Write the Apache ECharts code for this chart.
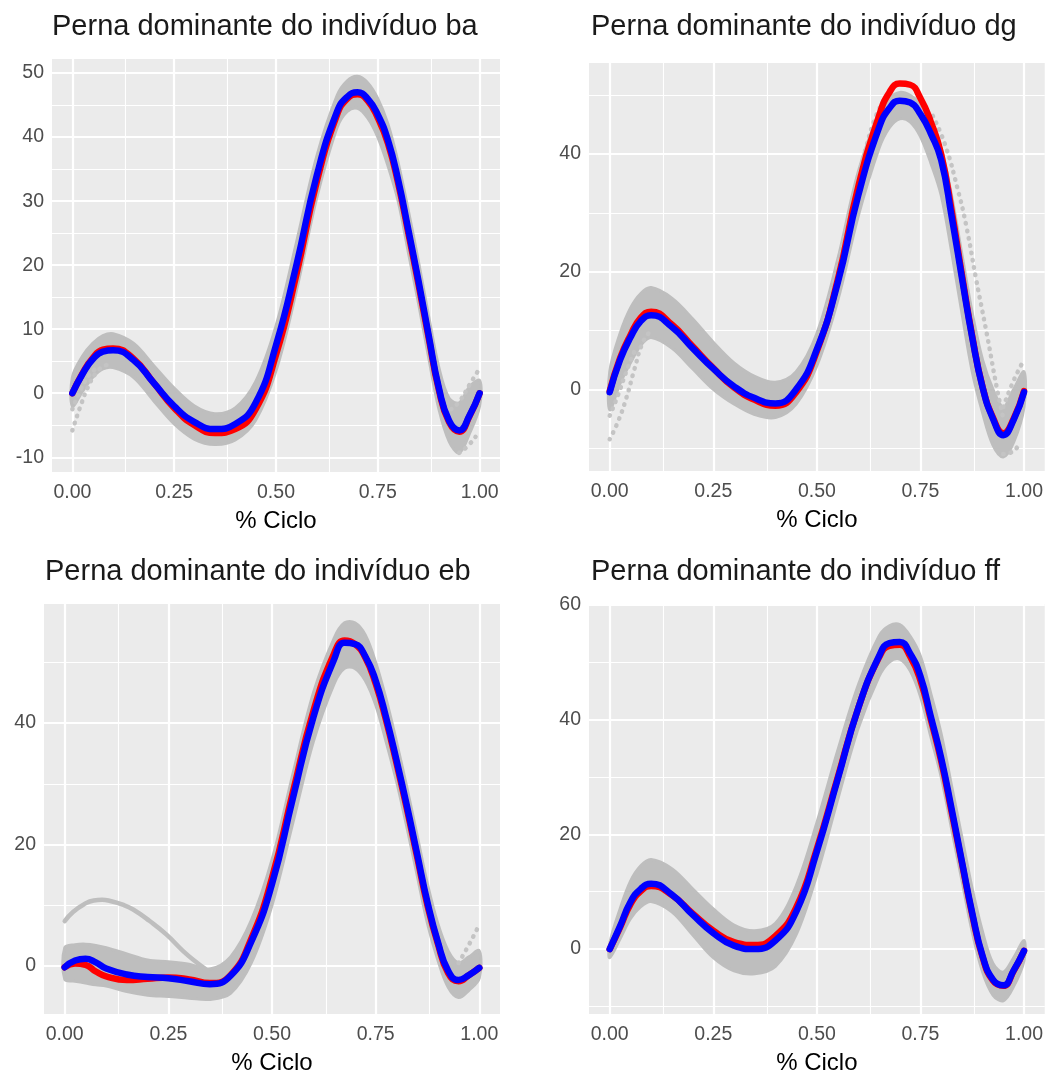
<!DOCTYPE html>
<html>
<head>
<meta charset="utf-8">
<script src="https://cdn.jsdelivr.net/npm/echarts@6/dist/echarts.min.js"></script>
<style>
  html, body { margin: 0; padding: 0; background: #fff; }
  #chart { width: 1046px; height: 1076px; }
</style>
</head>
<body>
<div id="chart"></div>
<script>
// % ciclo sample points shared by the mean curves and the gray envelopes
const X = [0, 0.025, 0.05, 0.075, 0.1, 0.15, 0.2, 0.25, 0.3, 0.35, 0.4, 0.45, 0.5, 0.55, 0.6, 0.65, 0.675, 0.7, 0.725, 0.75, 0.775, 0.8, 0.825, 0.85, 0.875, 0.9, 0.925, 0.95, 0.975, 1];

const xTicks = [0, 0.25, 0.5, 0.75, 1];
const xMinor = [0.125, 0.375, 0.625, 0.875];

// individuo ba
const baBlue = [0, 3.0, 5.3, 6.5, 6.7, 5.2, 1.6, -2.0, -4.5, -5.6, -4.8, -1.5, 7.5, 20, 34, 44, 46.3, 47, 46, 43.5, 39.5, 33.3, 25.5, 17.5, 9, 0.8, -4.3, -5.8, -3.5, 0];
const baRed = [0, 3.1, 5.5, 6.8, 7.0, 5.4, 1.6, -2.3, -5.0, -6.2, -5.6, -2.5, 6.0, 18.5, 33, 43.5, 46, 46.7, 45.7, 43, 39, 32.8, 25, 17, 8.6, 0.5, -4.5, -6.0, -3.6, 0];
const baHi = [2.5, 5.8, 7.8, 9.0, 9.3, 7.8, 4.3, 0.8, -2.0, -3.2, -2.3, 1.8, 10.5, 23.5, 37, 46.5, 48.8, 49.5, 48.5, 46, 42, 36, 28.5, 20.5, 12, 4, -0.8, -1.5, 1.0, 2.0];
const baLo = [-2, 0.3, 2.5, 3.8, 4.0, 2.5, -1.2, -4.8, -7.2, -8.0, -7.3, -4.2, 3.5, 16, 30.5, 41.5, 44, 44.5, 43, 40, 35.5, 30, 22, 14, 5.5, -2.5, -7.5, -9.3, -6.3, -2];
const baDots = [
  [[0, -5.8], [0.02, -2.0], [0.04, 1.2], [0.06, 3.3], [0.08, 4.3], [0.1, 4.6]],
  [[0, -2.5], [0.02, 0.5], [0.04, 2.7], [0.06, 4.0]],
  [[0.93, -2.5], [0.95, -1.3], [0.975, 1.3], [1, 3.9]],
  [[0.95, -9.3], [0.97, -8.3], [0.99, -6.8]]
];
const baYTicks = [-10, 0, 10, 20, 30, 40, 50];
const baYMinor = [-5, 5, 15, 25, 35, 45];

// individuo dg
const dgBlue = [-0.5, 5, 8.8, 11.6, 12.6, 10.6, 7.0, 3.5, 0.5, -1.5, -2.4, 0, 6.8, 18, 33, 44.5, 47.8, 49.1, 48.8, 46.8, 43.5, 39, 29.5, 19, 8.8, 0.3, -5, -7.8, -5.2, -0.5];
const dgRed = [-0.3, 5.3, 9.2, 12.2, 13.2, 11.0, 7.3, 3.6, 0.3, -1.8, -2.8, -0.5, 6.5, 18.5, 34.5, 46.5, 50.5, 52, 51.8, 49.5, 45.5, 40, 30.5, 19.5, 9, 0.4, -4.8, -7.5, -5, -0.3];
const dgHi = [3, 9.5, 13.8, 16.3, 17.3, 15.5, 12, 8, 4.5, 2.2, 1.2, 3, 9.5, 22, 37, 47, 49.5, 50.5, 50, 48.5, 45.5, 41, 33, 23, 13, 5, 0, -3, 0, 3];
const dgLo = [-3.5, 1, 4.5, 7.5, 8.8, 7, 3.5, 0, -2.5, -4.3, -4.8, -2.5, 4, 15, 29.5, 41, 44.5, 46, 45.5, 43, 38.5, 33, 23.5, 13, 3, -4, -9.5, -11.5, -9, -3];
const dgDots = [
  [[0, -8.5], [0.02, -5.5], [0.04, -1.5], [0.06, 3.5], [0.08, 8], [0.1, 10]],
  [[0, -4.5], [0.02, -1], [0.04, 3], [0.06, 6.5]],
  [[0.52, 12], [0.54, 18], [0.56, 24], [0.58, 30], [0.6, 36], [0.62, 41.5], [0.64, 46], [0.66, 49]],
  [[0.78, 46.5], [0.81, 41.5], [0.84, 34], [0.86, 28], [0.885, 18.5], [0.91, 9.5], [0.935, 0], [0.95, -5]],
  [[0.95, -3], [0.975, 1.5], [1, 5]],
  [[0.95, -11], [0.975, -10.5], [0.99, -9]]
];
const dgYTicks = [0, 20, 40];
const dgYMinor = [-10, 10, 30, 50];

// individuo eb
const ebBlue = [-0.2, 0.9, 1.2, 0.6, -0.4, -1.4, -1.8, -2.0, -2.5, -3.0, -1.6, 4.0, 13.5, 27.5, 41, 50.5, 53.2, 53, 51, 47, 41, 34, 26.5, 18.5, 10.5, 4, -0.8, -2.3, -1.5, -0.3];
const ebRed = [-0.2, 0.4, 0.2, -0.9, -1.7, -2.3, -2.1, -1.9, -2.2, -2.8, -1.5, 4.5, 14.5, 28.5, 42, 51.5, 53.6, 53, 50.8, 46.5, 40.5, 33.5, 26, 18, 10, 3.7, -1.2, -2.5, -1.5, -0.3];
const ebHi = [3, 3.5, 3.6, 3.4, 3.0, 2.0, 1.0, 0.7, 0.3, -0.5, 1.5, 7.5, 17.5, 31.5, 45, 54, 56.5, 56.5, 54.5, 50, 44, 37, 29.5, 21.5, 13.5, 7, 2.5, 0.5, 1.5, 2.5];
const ebLo = [-2.2, -2.5, -2.8, -3.1, -3.3, -4.2, -4.8, -5.0, -5.3, -5.5, -4.5, 0.5, 10, 23.5, 37, 46.5, 49, 49, 47, 43, 37, 30.5, 23, 15, 7, 1, -3.5, -5.2, -4, -2];
const ebLoose = [[0, 7.4], [0.02, 8.9], [0.045, 10.1], [0.07, 10.8], [0.09, 10.9], [0.11, 10.7], [0.14, 10.1], [0.165, 9.3], [0.205, 7.4], [0.245, 5.2], [0.285, 2.5], [0.32, 0.5], [0.34, -0.5]];
const ebDots = [
  [[0.95, 0.5], [0.975, 3.5], [1, 6.8]]
];
const ebYTicks = [0, 20, 40];
const ebYMinor = [10, 30, 50];

// individuo ff
const ffBlue = [0, 4, 8.2, 10.5, 11.4, 9.5, 6, 2.8, 0.6, 0, 1.5, 6.5, 17, 29.5, 42, 51, 53.3, 53.5, 51.5, 47.5, 40.5, 33.3, 24.5, 15.3, 6.3, -1.2, -5.3, -6.3, -3.7, -0.3];
const ffRed = [0, 3.8, 7.8, 10.1, 11.0, 9.4, 6.2, 3.2, 1.2, 0.7, 2.3, 7.2, 17.5, 29.8, 42, 50.8, 52.8, 53, 51, 46.8, 40, 32.8, 24, 15, 6, -1.4, -5.5, -6.4, -3.8, -0.3];
const ffHi = [1, 7, 11.8, 14.5, 15.6, 14, 10.5, 7, 4.2, 3.2, 4.5, 11, 22, 34.5, 46, 54.5, 56.3, 56.5, 54.5, 51, 44.5, 37.5, 28.5, 19.5, 10.5, 3, -2.5, -4, -1.5, 1.5];
const ffLo = [-1.5, 1.8, 5.3, 7.4, 8.3, 6.5, 2.5, -1.5, -3.8, -4.3, -3, 2.5, 13, 26, 38.5, 47.5, 50, 50.5, 48.5, 44, 37, 30, 21, 12, 3, -4, -8, -9, -6.5, -2];
const ffDots = [];
const ffYTicks = [0, 20, 40, 60];
const ffYMinor = [-10, 10, 30, 50];

const panels = [
  { title: 'Perna dominante do indivíduo ba', blue: baBlue, red: baRed, hi: baHi, lo: baLo, dots: baDots, loose: [], yTicks: baYTicks, yMinor: baYMinor, yMin: -12.3, yMax: 52.2 },
  { title: 'Perna dominante do indivíduo dg', blue: dgBlue, red: dgRed, hi: dgHi, lo: dgLo, dots: dgDots, loose: [], yTicks: dgYTicks, yMinor: dgYMinor, yMin: -13.9, yMax: 55.5 },
  { title: 'Perna dominante do indivíduo eb', blue: ebBlue, red: ebRed, hi: ebHi, lo: ebLo, dots: ebDots, loose: [ebLoose], yTicks: ebYTicks, yMinor: ebYMinor, yMin: -7.9, yMax: 59.6 },
  { title: 'Perna dominante do indivíduo ff', blue: ffBlue, red: ffRed, hi: ffHi, lo: ffLo, dots: ffDots, loose: [], yTicks: ffYTicks, yMinor: ffYMinor, yMin: -11.3, yMax: 60.1 }
];

// panel boxes in pixels
const layout = [
  { left: 52, top: 59, width: 448, height: 413, titleLeft: 52, titleTop: 11 },
  { left: 589, top: 63, width: 456, height: 408, titleLeft: 591, titleTop: 11 },
  { left: 44, top: 604, width: 456, height: 412, titleLeft: 45, titleTop: 556 },
  { left: 589, top: 604, width: 456, height: 413, titleLeft: 591, titleTop: 556 }
];

const FONT = '"Liberation Sans", Arial, Helvetica, sans-serif';
const GRAY = '#BEBEBE';

const chart = echarts.init(document.getElementById('chart'));

const grids = [], xAxes = [], yAxes = [], titles = [], series = [];

panels.forEach(function (p, k) {
  const L = layout[k];
  grids.push({
    left: L.left, top: L.top, width: L.width, height: L.height,
    show: true, backgroundColor: '#EBEBEB', borderWidth: 0
  });
  titles.push({
    text: p.title, left: L.titleLeft, top: L.titleTop, padding: 0,
    textStyle: { fontFamily: FONT, fontSize: 29, fontWeight: 'normal', color: '#1a1a1a', lineHeight: 31 }
  });
  xAxes.push({
    gridIndex: k, type: 'value', min: -0.05, max: 1.05,
    splitLine: { show: false }, axisLine: { show: false },
    axisTick: { show: true, customValues: xTicks, length: 5, lineStyle: { color: '#333', width: 2 } },
    axisLabel: {
      customValues: xTicks, margin: 11, color: '#4D4D4D', fontSize: 19.5, fontFamily: FONT,
      formatter: function (v) { return Number(v).toFixed(2); }
    },
    name: '% Ciclo', nameLocation: 'middle', nameGap: 37,
    nameTextStyle: { fontFamily: FONT, fontSize: 24, color: '#000' }
  });
  yAxes.push({
    gridIndex: k, type: 'value', min: p.yMin, max: p.yMax,
    splitLine: { show: false }, axisLine: { show: false },
    axisTick: { show: true, customValues: p.yTicks, length: 5, lineStyle: { color: '#333', width: 2 } },
    axisLabel: { customValues: p.yTicks, margin: 8, color: '#4D4D4D', fontSize: 19.5, fontFamily: FONT }
  });

  // white panel grid
  const lines = [];
  xMinor.forEach(function (v) { lines.push({ xAxis: v, lineStyle: { width: 1.1 } }); });
  p.yMinor.forEach(function (v) { lines.push({ yAxis: v, lineStyle: { width: 1.1 } }); });
  xTicks.forEach(function (v) { lines.push({ xAxis: v, lineStyle: { width: 2.2 } }); });
  p.yTicks.forEach(function (v) { lines.push({ yAxis: v, lineStyle: { width: 2.2 } }); });
  series.push({
    type: 'line', xAxisIndex: k, yAxisIndex: k, data: [], silent: true,
    markLine: {
      z: 1, silent: true, symbol: ['none', 'none'], label: { show: false },
      lineStyle: { color: '#FFFFFF', type: 'solid' }, emphasis: { disabled: true },
      animation: false, data: lines
    }
  });

  // gray band of the single cycles
  series.push({
    type: 'custom', xAxisIndex: k, yAxisIndex: k, z: 10, silent: true,
    data: X.map(function (x, i) { return [x, p.lo[i], p.hi[i]]; }),
    renderItem: function (params, api) {
      if (params.dataIndex !== 0) return null;
      const pts = [];
      for (let i = 0; i < X.length; i++) pts.push(api.coord([X[i], p.hi[i]]));
      for (let i = X.length - 1; i >= 0; i--) pts.push(api.coord([X[i], p.lo[i]]));
      return {
        type: 'polygon',
        shape: { points: pts, smooth: 0.35 },
        style: { fill: GRAY, stroke: GRAY, lineWidth: 3, lineJoin: 'round' }
      };
    }
  });

  p.loose.forEach(function (d) {
    series.push({
      type: 'line', xAxisIndex: k, yAxisIndex: k, z: 11, silent: true, data: d,
      smooth: 0.5, symbol: 'none',
      lineStyle: { color: GRAY, width: 4.5, cap: 'round' }
    });
  });
  p.dots.forEach(function (d) {
    series.push({
      type: 'line', xAxisIndex: k, yAxisIndex: k, z: 11, silent: true, data: d,
      smooth: 0.5, symbol: 'none',
      lineStyle: { color: '#C4C4C4', width: 4.5, type: [0.5, 7], cap: 'round' }
    });
  });

  series.push({
    type: 'line', xAxisIndex: k, yAxisIndex: k, z: 12, silent: true,
    data: X.map(function (x, i) { return [x, p.red[i]]; }),
    smooth: 0.5, symbol: 'none',
    lineStyle: { color: '#FF0000', width: 6.5, cap: 'round', join: 'round' }
  });
  series.push({
    type: 'line', xAxisIndex: k, yAxisIndex: k, z: 13, silent: true,
    data: X.map(function (x, i) { return [x, p.blue[i]]; }),
    smooth: 0.5, symbol: 'none',
    lineStyle: { color: '#0000FF', width: 6.5, cap: 'round', join: 'round' }
  });
});

chart.setOption({
  backgroundColor: '#FFFFFF',
  animation: false,
  title: titles,
  grid: grids,
  xAxis: xAxes,
  yAxis: yAxes,
  series: series
});
</script>
</body>
</html>
